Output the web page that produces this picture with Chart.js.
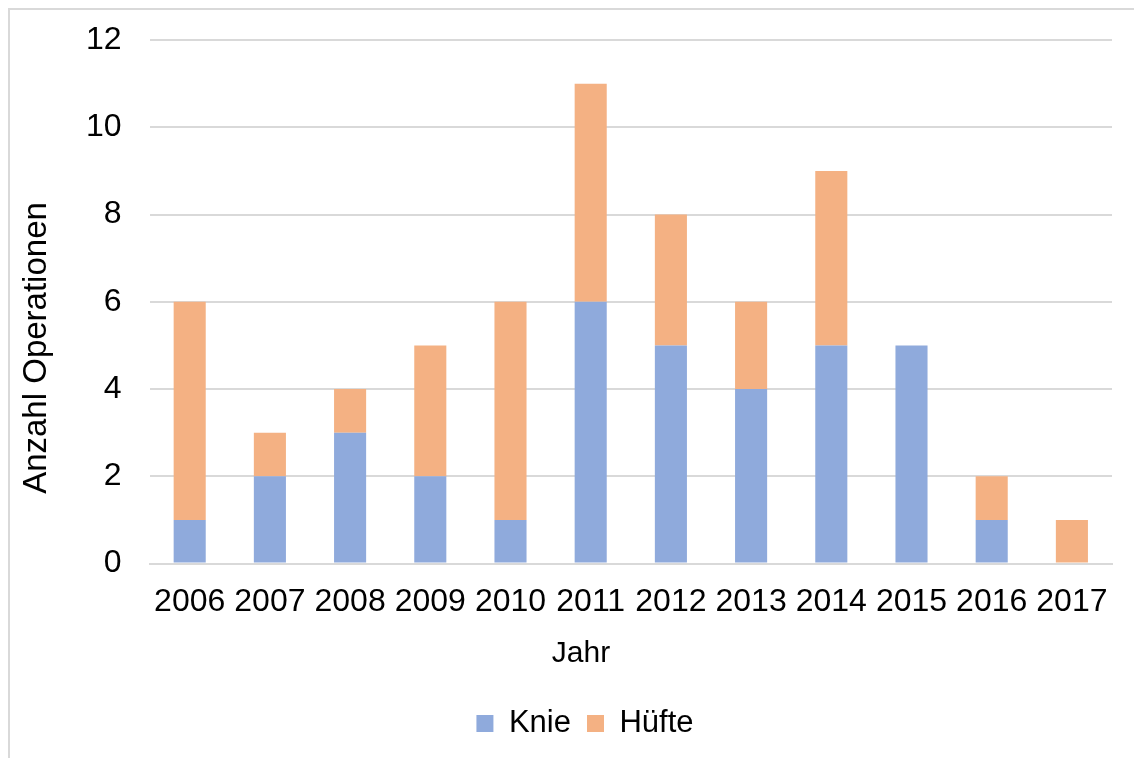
<!DOCTYPE html>
<html>
<head>
<meta charset="utf-8">
<script src="https://cdn.jsdelivr.net/npm/chart.js@4"></script>
<style>
  html, body { margin: 0; padding: 0; background: #fff; }
  #wrap { position: relative; width: 1134px; height: 758px; }
</style>
</head>
<body>
<div id="wrap"><canvas id="chart"></canvas></div>
<script>
const years = ['2006', '2007', '2008', '2009', '2010', '2011', '2012', '2013', '2014', '2015', '2016', '2017'];
const knie = [1, 2, 3, 2, 1, 6, 5, 4, 5, 5, 1, 0];
const huefte = [5, 1, 1, 3, 5, 5, 3, 2, 4, 0, 1, 1];

const fontFamily = '"Liberation Sans", Arial, sans-serif';

// light frame around the whole chart; both axis titles are drawn by hand
// because the original centres them on the whole frame, not on the plot
const frame = {
    id: 'frame',
    beforeDraw(chart) {
        const ctx = chart.ctx;
        ctx.save();
        ctx.strokeStyle = '#d9d9d9';
        ctx.lineWidth = 2;
        ctx.strokeRect(9, 9, 1200, 800);
        ctx.restore();
    },
    afterDraw(chart) {
        const ctx = chart.ctx;
        ctx.save();
        ctx.fillStyle = '#000';
        ctx.textAlign = 'center';
        ctx.textBaseline = 'middle';
        ctx.font = '30px ' + fontFamily;
        ctx.fillText('Jahr', 581, 654);
        ctx.translate(37, 348);
        ctx.rotate(-Math.PI / 2);
        ctx.font = '33px ' + fontFamily;
        ctx.fillText('Anzahl Operationen', 0, 0);
        ctx.restore();
    }
};

Chart.defaults.font.family = fontFamily;
Chart.defaults.color = '#000';

new Chart(document.getElementById('chart').getContext('2d'), {
    type: 'bar',
    data: {
        labels: years,
        datasets: [{
            label: 'Knie',
            data: knie,
            backgroundColor: '#8faadc'
        }, {
            label: 'Hüfte',
            data: huefte,
            backgroundColor: '#f4b183'
        }]
    },
    options: {
        responsive: true,
        maintainAspectRatio: false,
        animation: false,
        barPercentage: 0.4,
        categoryPercentage: 1,
        layout: {
            padding: { left: 58, right: 22, top: 40, bottom: 9 }
        },
        plugins: {
            legend: {
                position: 'bottom',
                labels: {
                    boxWidth: 17,
                    boxHeight: 17,
                    padding: 16,
                    font: { size: 31 }
                }
            },
            tooltip: { enabled: false }
        },
        scales: {
            x: {
                stacked: true,
                grid: { display: false, drawTicks: false },
                border: { color: '#d9d9d9', width: 2 },
                ticks: { padding: 19, maxRotation: 0, autoSkip: false, font: { size: 32 } },
                title: {
                    // keeps the room; the visible text comes from the plugin
                    display: true,
                    text: 'Jahr',
                    color: 'rgba(0,0,0,0)',
                    font: { size: 30 },
                    padding: { top: -3, bottom: 19 }
                }
            },
            y: {
                stacked: true,
                min: 0,
                max: 12,
                grid: { color: '#d9d9d9', lineWidth: 2, drawTicks: false },
                border: { display: false },
                ticks: { stepSize: 2, padding: 28, font: { size: 32 } },
                afterFit(scale) {
                    scale.paddingTop = 0;
                    scale.paddingBottom = 0;
                }
            }
        }
    },
    plugins: [frame]
});
</script>
</body>
</html>
